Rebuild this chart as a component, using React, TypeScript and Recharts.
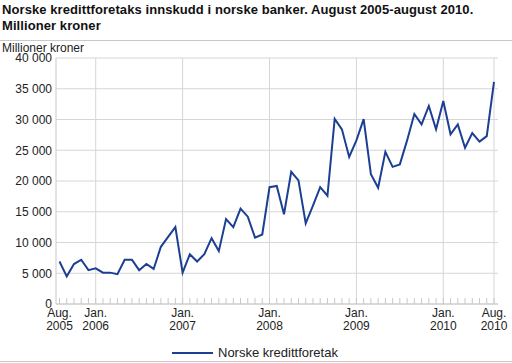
import React from 'react';
import { LineChart, Line, XAxis, YAxis, CartesianGrid, ReferenceLine } from 'recharts';

const months: string[] = [
  '2005-08', '2005-09', '2005-10', '2005-11', '2005-12',
  '2006-01', '2006-02', '2006-03', '2006-04', '2006-05', '2006-06', '2006-07', '2006-08', '2006-09', '2006-10', '2006-11', '2006-12',
  '2007-01', '2007-02', '2007-03', '2007-04', '2007-05', '2007-06', '2007-07', '2007-08', '2007-09', '2007-10', '2007-11', '2007-12',
  '2008-01', '2008-02', '2008-03', '2008-04', '2008-05', '2008-06', '2008-07', '2008-08', '2008-09', '2008-10', '2008-11', '2008-12',
  '2009-01', '2009-02', '2009-03', '2009-04', '2009-05', '2009-06', '2009-07', '2009-08', '2009-09', '2009-10', '2009-11', '2009-12',
  '2010-01', '2010-02', '2010-03', '2010-04', '2010-05', '2010-06', '2010-07', '2010-08',
];

const kredittforetak: number[] = [
  6900, 4500, 6500, 7200, 5500,
  5800, 5100, 5100, 4850, 7200, 7200, 5500, 6500, 5700, 9300, 10900, 12500,
  5100, 8100, 6900, 8100, 10700, 8600, 13800, 12500, 15500, 14200, 10800, 11300,
  19000, 19200, 14600, 21500, 20100, 13100, 16000, 19000, 17600, 30100, 28400, 23900,
  26600, 30050, 21100, 18900, 24750, 22300, 22700, 26600, 30900, 29200, 32200, 28400,
  33000, 27600, 29200, 25400, 27800, 26400, 27300, 36100,
];

const yTicks: number[] = [0, 5000, 10000, 15000, 20000, 25000, 30000, 35000, 40000];

const xTickLabels: Record<string, [string, string]> = {
  '2005-08': ['Aug.', '2005'],
  '2006-01': ['Jan.', '2006'],
  '2007-01': ['Jan.', '2007'],
  '2008-01': ['Jan.', '2008'],
  '2009-01': ['Jan.', '2009'],
  '2010-01': ['Jan.', '2010'],
  '2010-08': ['Aug.', '2010'],
};

const gridMonths: string[] = ['2006-01', '2007-01', '2008-01', '2009-01', '2010-01', '2010-08'];

const title1 = 'Norske kredittforetaks innskudd i norske banker. August 2005-august 2010.';
const title2 = 'Millioner kroner';
const yAxisTitle = 'Millioner kroner';
const seriesName = 'Norske kredittforetak';

const data = months.map((m, i) => ({ month: m, value: kredittforetak[i] }));

const FONT = '"Liberation Sans", Arial, sans-serif';
const LINE_COLOR = '#1c3f94';
const GRID = '#d6d6d6';

const fmt = (v: number) => {
  const s = String(v);
  return s.length > 3 ? s.slice(0, s.length - 3) + ' ' + s.slice(s.length - 3) : s;
};

const XTick = (props: any) => {
  const { x, y, payload } = props;
  const lbl = xTickLabels[payload.value];
  return (
    <g>
      <line x1={x} x2={x} y1={y} y2={y - 6} stroke="#c8c8c8" strokeWidth={1} />
      {lbl && (
        <text x={x} y={y} textAnchor="middle" fontSize={12} fontFamily={FONT} fill="#222">
          <tspan x={x} dy={13}>{lbl[0]}</tspan>
          <tspan x={x} dy={13}>{lbl[1]}</tspan>
        </text>
      )}
    </g>
  );
};

export default function App() {
  return (
    <div style={{ position: 'absolute', left: 0, top: 0, width: 512, height: 363, background: '#fff', fontFamily: FONT }}>
      <div style={{ position: 'absolute', left: 2, top: 2, fontSize: 13, fontWeight: 'bold', lineHeight: '16px', color: '#111', whiteSpace: 'nowrap', letterSpacing: '0.08px' }}>
        <div>{title1}</div>
        <div>{title2}</div>
      </div>
      <div style={{ position: 'absolute', left: 0, top: 40, width: 512, height: 1, background: '#c8c8c8' }} />
      <div style={{ position: 'absolute', left: 2, top: 41, fontSize: 12, lineHeight: '14px', color: '#222' }}>{yAxisTitle}</div>
      <div style={{ position: 'absolute', left: 0, top: 0 }}>
        <LineChart width={512} height={363} data={data} margin={{ top: 58, right: 14, bottom: 0, left: 0 }}>
          <CartesianGrid vertical={false} stroke={GRID} />
          {gridMonths.map((m) => (
            <ReferenceLine key={m} x={m} stroke={GRID} strokeWidth={1} />
          ))}
          <XAxis
            dataKey="month"
            type="category"
            ticks={months}
            interval={0}
            height={59}
            padding={{ left: 3.5, right: 4 }}
            tickLine={false}
            tickSize={0}
            tickMargin={0}
            axisLine={{ stroke: '#c8c8c8' }}
            tick={<XTick />}
          />
          <YAxis
            type="number"
            domain={[0, 40000]}
            ticks={yTicks}
            width={56}
            tickLine={false}
            tickSize={4}
            tickMargin={0}
            axisLine={{ stroke: '#c8c8c8' }}
            tickFormatter={fmt}
            tick={{ fontSize: 12, fontFamily: FONT, fill: '#222' }}
          />
          <Line
            type="linear"
            dataKey="value"
            stroke={LINE_COLOR}
            strokeWidth={2}
            dot={false}
            isAnimationActive={false}
          />
        </LineChart>
      </div>
      <div style={{ position: 'absolute', left: 172, top: 352, width: 41, height: 2, background: LINE_COLOR }} />
      <div style={{ position: 'absolute', left: 218, top: 345, fontSize: 13, lineHeight: '15px', color: '#222', whiteSpace: 'nowrap' }}>{seriesName}</div>
      <div style={{ position: 'absolute', left: 0, top: 361, width: 512, height: 1, background: '#c8c8c8' }} />
    </div>
  );
}
